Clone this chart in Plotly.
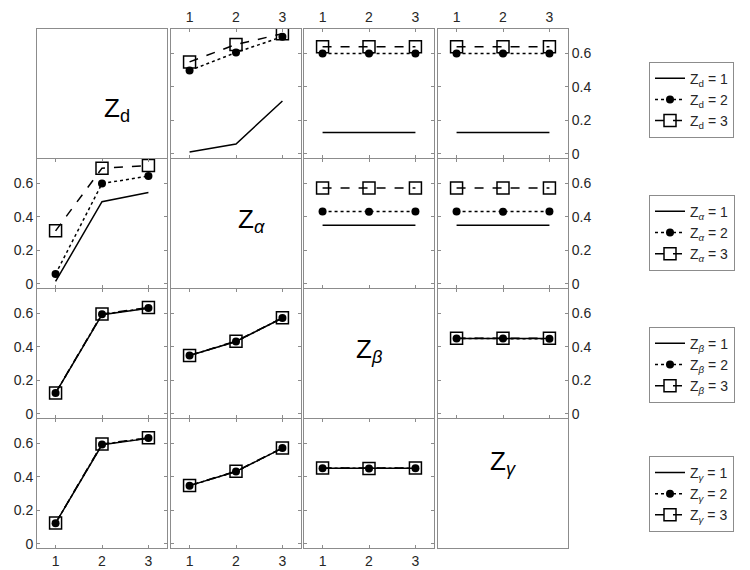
import plotly.graph_objects as go

x_levels = [1, 2, 3]
tick_vals = [0, 0.2, 0.4, 0.6]
tick_text = ["0", "0.2", "0.4", "0.6"]
factor_labels = ["d", "<i>α</i>", "<i>β</i>", "<i>γ</i>"]

# Row 1: lines grouped by Z_d
zd_vs_za = [[0.010, 0.058, 0.315], [0.496, 0.604, 0.698], [0.548, 0.652, 0.716]]
zd_vs_zb = [[0.126, 0.126, 0.126], [0.598, 0.598, 0.598], [0.638, 0.638, 0.638]]
zd_vs_zg = [[0.126, 0.126, 0.126], [0.598, 0.598, 0.598], [0.638, 0.638, 0.638]]
# Row 2: lines grouped by Z_alpha
za_vs_zd = [[0.014, 0.490, 0.545], [0.058, 0.598, 0.643], [0.316, 0.690, 0.706]]
za_vs_zb = [[0.350, 0.348, 0.350], [0.432, 0.430, 0.432], [0.572, 0.572, 0.572]]
za_vs_zg = [[0.350, 0.348, 0.350], [0.432, 0.430, 0.432], [0.572, 0.572, 0.572]]
# Row 3: lines grouped by Z_beta
zb_vs_zd = [[0.124, 0.592, 0.630], [0.124, 0.594, 0.632], [0.125, 0.596, 0.634]]
zb_vs_za = [[0.348, 0.432, 0.572], [0.348, 0.432, 0.572], [0.349, 0.434, 0.573]]
zb_vs_zg = [[0.450, 0.450, 0.450], [0.450, 0.450, 0.448], [0.452, 0.452, 0.452]]
# Row 4: lines grouped by Z_gamma
zg_vs_zd = [[0.124, 0.592, 0.630], [0.124, 0.594, 0.632], [0.125, 0.596, 0.634]]
zg_vs_za = [[0.348, 0.432, 0.572], [0.348, 0.432, 0.572], [0.349, 0.434, 0.573]]
zg_vs_zb = [[0.452, 0.450, 0.452], [0.452, 0.450, 0.452], [0.453, 0.451, 0.453]]

panels = {
    (0, 1): zd_vs_za, (0, 2): zd_vs_zb, (0, 3): zd_vs_zg,
    (1, 0): za_vs_zd, (1, 2): za_vs_zb, (1, 3): za_vs_zg,
    (2, 0): zb_vs_zd, (2, 1): zb_vs_za, (2, 3): zb_vs_zg,
    (3, 0): zg_vs_zd, (3, 1): zg_vs_za, (3, 2): zg_vs_zb,
}
legend_panel = {0: 1, 1: 0, 2: 0, 3: 0}

W, H = 750, 570
col_left = [29, 163, 296, 430]
row_top = [21, 152, 283, 414]
PW, PH = 130, 130

styles = [
    dict(mode="lines", line=dict(color="black", width=1.5, dash="solid")),
    dict(mode="lines+markers", line=dict(color="black", width=1.5, dash="dot"),
         marker=dict(symbol="circle", size=8, color="black")),
    dict(mode="lines+markers", line=dict(color="black", width=1.5, dash="dash"),
         marker=dict(symbol="square-open", size=12, color="black", line=dict(width=1.5))),
]

fig = go.Figure()
layout = {}
font_family = "Arial, 'Liberation Sans', sans-serif"
tick_color = "#262626"
box_color = "#8c8c8c"

for r in range(4):
    for c in range(4):
        k = r * 4 + c + 1
        xa = "x" if k == 1 else f"x{k}"
        ya = "y" if k == 1 else f"y{k}"
        xkey = "xaxis" if k == 1 else f"xaxis{k}"
        ykey = "yaxis" if k == 1 else f"yaxis{k}"
        x0 = col_left[c] / W
        x1 = (col_left[c] + PW) / W
        y1 = 1 - row_top[r] / H
        y0 = 1 - (row_top[r] + PH) / H
        diag = (r == c)
        xside = "top" if r == 0 else "bottom"
        show_x = (r == 0 and c > 0) or (r == 3 and c < 3)
        yside = "right" if c == 3 else "left"
        show_y = (c == 0 and r > 0) or (c == 3 and r < 3)
        layout[xkey] = dict(
            domain=[x0, x1], anchor=ya, range=[0.6, 3.4],
            tickvals=x_levels, ticktext=[str(v) for v in x_levels],
            showticklabels=show_x and not diag, side=xside,
            ticks="" if diag else "inside", ticklen=3, tickcolor=box_color,
            showline=True, linecolor=box_color, linewidth=1,
            mirror=True if diag else "ticks",
            showgrid=False, zeroline=False, fixedrange=True,
            tickfont=dict(size=14, color=tick_color, family=font_family),
        )
        layout[ykey] = dict(
            domain=[y0, y1], anchor=xa, range=[-0.025, 0.745],
            tickvals=tick_vals, ticktext=tick_text,
            showticklabels=show_y and not diag, side=yside,
            ticks="" if diag else "inside", ticklen=3, tickcolor=box_color,
            showline=True, linecolor=box_color, linewidth=1,
            mirror=True if diag else "ticks",
            showgrid=False, zeroline=False, fixedrange=True,
            tickfont=dict(size=14, color=tick_color, family=font_family),
        )
        if diag:
            # empty trace so the panel frame is drawn
            fig.add_trace(go.Scatter(x=[], y=[], xaxis=xa, yaxis=ya,
                                     showlegend=False, hoverinfo="skip"))
            fig.add_annotation(
                x=(x0 + x1) / 2, y=(y0 + y1) / 2 + 0.005, xref="paper", yref="paper",
                text=f"Z<sub>{factor_labels[r]}</sub>", showarrow=False,
                font=dict(size=26, color="black", family=font_family),
            )
            continue
        series = panels[(r, c)]
        lg = "legend" if r == 0 else f"legend{r + 1}"
        for i, vals in enumerate(series):
            fig.add_trace(go.Scatter(
                x=x_levels, y=vals, xaxis=xa, yaxis=ya,
                name=f"Z<sub>{factor_labels[r]}</sub> = {i + 1}",
                showlegend=(c == legend_panel[r]), legend=lg,
                hoverinfo="skip", **styles[i],
            ))

legend_tops = [54, 188, 321, 451]
for r in range(4):
    key = "legend" if r == 0 else f"legend{r + 1}"
    layout[key] = dict(
        x=641 / W, y=1 - legend_tops[r] / H, xanchor="left", yanchor="top",
        bgcolor="white", bordercolor=box_color, borderwidth=1,
        font=dict(size=14, color=tick_color, family=font_family),
        traceorder="normal", itemclick=False, itemdoubleclick=False,
        tracegroupgap=0,
    )

fig.update_layout(
    width=W, height=H, margin=dict(l=0, r=0, t=0, b=0),
    paper_bgcolor="white", plot_bgcolor="white", showlegend=True,
    **layout,
)

fig.write_html("out.html")
